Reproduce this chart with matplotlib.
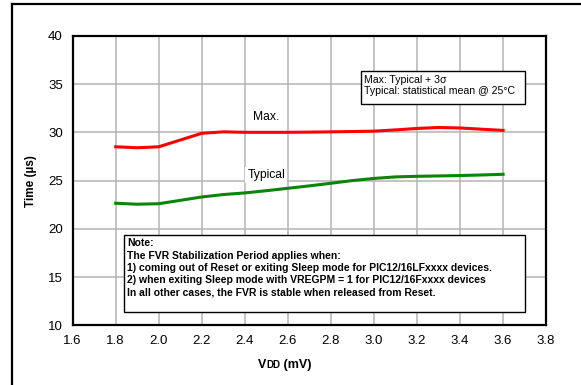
import matplotlib
matplotlib.use("Agg")
import matplotlib.pyplot as plt
from matplotlib.lines import Line2D

plt.rcParams['font.family'] = ['Liberation Sans', 'DejaVu Sans']

# VDD (V) and stabilization time (us)
vdd = [1.8, 1.9, 2.0, 2.1, 2.2, 2.3, 2.4, 2.5, 2.6, 2.7,
       2.8, 2.9, 3.0, 3.1, 3.2, 3.3, 3.4, 3.5, 3.6]
t_max = [28.5, 28.4, 28.5, 29.2, 29.9, 30.05, 30.0, 30.0, 30.0, 30.02,
         30.05, 30.08, 30.12, 30.25, 30.4, 30.5, 30.45, 30.32, 30.2]
t_typ = [22.65, 22.55, 22.6, 22.95, 23.3, 23.55, 23.72, 23.95, 24.2, 24.45,
         24.72, 25.0, 25.22, 25.38, 25.44, 25.48, 25.52, 25.58, 25.65]

x_ticks = [1.6, 1.8, 2.0, 2.2, 2.4, 2.6, 2.8, 3.0, 3.2, 3.4, 3.6, 3.8]
y_ticks = [10, 15, 20, 25, 30, 35, 40]

note_lines = [
    "Note:",
    "The FVR Stabilization Period applies when:",
    "1) coming out of Reset or exiting Sleep mode for PIC12/16LFxxxx devices.",
    "2) when exiting Sleep mode with VREGPM = 1 for PIC12/16Fxxxx devices",
    "In all other cases, the FVR is stable when released from Reset.",
]
info_lines = ["Max: Typical + 3\u03c3", "Typical: statistical mean @ 25\u00b0C"]

fig = plt.figure(figsize=(5.81, 3.85), dpi=100)
ax = fig.add_axes([0.125, 0.155, 0.815, 0.752])

ax.plot(vdd, t_max, color='#ff0000', lw=2.2, zorder=3)
ax.plot(vdd, t_typ, color='#0a850a', lw=2.2, zorder=3)

ax.set_xlim(1.6, 3.8)
ax.set_ylim(10, 40)
ax.set_xticks(x_ticks)
ax.set_xticklabels([f"{v:.1f}" for v in x_ticks])
ax.set_yticks(y_ticks)
ax.tick_params(length=0, labelsize=9.5, pad=7)
ax.grid(True, color='#b4b4b4', lw=1.1)
ax.set_axisbelow(True)
for s in ax.spines.values():
    s.set_linewidth(1.6)
    s.set_color('black')

ax.set_ylabel("Time (\u00b5s)", fontsize=8.5, fontweight='bold', labelpad=8)

# x label with small-caps style "DD"
t1 = fig.text(0.444, 0.044, "V", fontsize=9, fontweight='bold', ha='left', va='baseline')
t2 = ax.annotate("DD", xy=(1, 0), xycoords=t1, xytext=(0, 0.6), textcoords='offset points',
                 fontsize=7, fontweight='bold', va='bottom')
ax.annotate(" (mV)", xy=(1, 0), xycoords=t2, xytext=(0, -0.6), textcoords='offset points',
            fontsize=9, fontweight='bold', va='bottom')

ax.text(2.5, 31.6, "Max.", fontsize=8.7, ha='center', va='center',
        bbox=dict(facecolor='white', edgecolor='none', pad=1.5), zorder=4)
ax.text(2.5, 25.6, "Typical", fontsize=8.7, ha='center', va='center',
        bbox=dict(facecolor='white', edgecolor='none', pad=1.5), zorder=4)

# info box
ax.add_patch(plt.Rectangle((2.94, 32.93), 0.76, 3.41, facecolor='white',
                           edgecolor='black', lw=1.0, zorder=4))
ax.text(2.952, 35.95, "\n".join(info_lines), fontsize=7.55, ha='left', va='top',
        linespacing=1.2, zorder=5)

# note box
ax.add_patch(plt.Rectangle((1.84, 11.37), 1.86, 7.98, facecolor='white',
                           edgecolor='black', lw=1.0, zorder=4))
ax.text(1.853, 19.0, "\n".join(note_lines), fontsize=7.5, fontweight='bold',
        ha='left', va='top', linespacing=1.27, zorder=5)

# outer frame (left and top)
fig.add_artist(Line2D([11.5 / 581, 11.5 / 581], [0, 1 - 4.3 / 385],
                      color='black', lw=1.6, transform=fig.transFigure))
fig.add_artist(Line2D([11.5 / 581, 1], [1 - 4.3 / 385, 1 - 4.3 / 385],
                      color='black', lw=1.6, transform=fig.transFigure))

fig.savefig("out.png", dpi=100)
